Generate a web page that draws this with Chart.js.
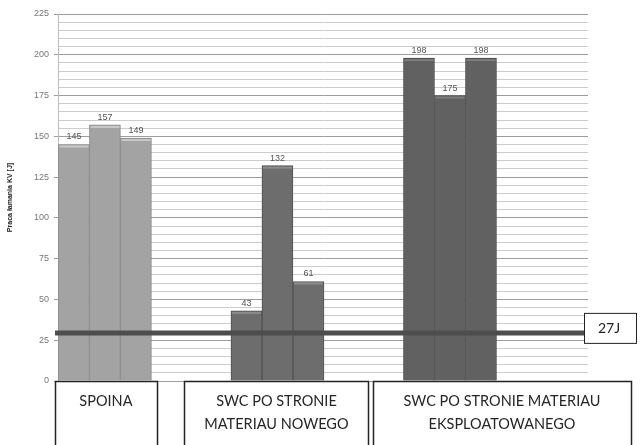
<!DOCTYPE html>
<html>

<head>
    <meta charset="utf-8">
    <title>Praca łamania KV</title>
    <style>
        body {
            margin: 0;
            background-color: white;
        }
    </style>
</head>

<body>
    <canvas id="kvChart" width="640" height="445"></canvas>

    <script src="https://cdn.jsdelivr.net/npm/chart.js"></script>
    <script>
        // Data
        const categories = ['SPOINA', ['SWC PO STRONIE', 'MATERIAU NOWEGO'], ['SWC PO STRONIE MATERIAU', 'EKSPLOATOWANEGO']];
        const sample1 = [145, 43, 198];
        const sample2 = [157, 132, 175];
        const sample3 = [149, 61, 198];
        const limitValue = 29.5;      // drawn position of the 27J line
        const limitLabel = '27J';
        const yTicks = [0, 25, 50, 75, 100, 125, 150, 175, 200, 225];

        // Styles per category group
        const fillColors = ['#a3a3a3', '#6d6d6d', '#616161'];
        const edgeColors = ['#888888', '#525252', '#484848'];
        const topColors = ['#c9c9c9', '#8c8c8c', '#7d7d7d'];

        // Label boxes under the groups: offset from group centre and width (px)
        const boxLayout = [{ dx: 1, w: 102 }, { dx: -1, w: 184 }, { dx: 52, w: 258 }];

        const toPoints = arr => arr.map((v, i) => ({ x: i, y: v }));

        const barDecor = {
            id: 'barDecor',
            afterDatasetsDraw(chart) {
                const ctx = chart.ctx;
                const area = chart.chartArea;
                const x = chart.scales.x;
                const y = chart.scales.y;

                // light strip on each bar top + value labels
                ctx.save();
                chart.data.datasets.forEach((ds, di) => {
                    const meta = chart.getDatasetMeta(di);
                    meta.data.forEach((bar, i) => {
                        const w = bar.width;
                        ctx.fillStyle = topColors[i];
                        ctx.fillRect(bar.x - w / 2 + 1, bar.y + 1, w - 2, 2);
                        ctx.fillStyle = '#555';
                        ctx.font = '9px "Liberation Sans", sans-serif';
                        ctx.textAlign = 'center';
                        ctx.textBaseline = 'bottom';
                        ctx.fillText(ds.data[i].y, bar.x, bar.y - 3);
                    });
                });

                // limit line with its box
                const ly = y.getPixelForValue(limitValue);
                ctx.strokeStyle = '#4d4d4d';
                ctx.lineWidth = 5;
                ctx.beginPath();
                ctx.moveTo(area.left - 3, ly);
                ctx.lineTo(area.right - 4, ly);
                ctx.stroke();

                ctx.fillStyle = 'white';
                ctx.strokeStyle = '#222';
                ctx.lineWidth = 1;
                ctx.fillRect(area.right - 4, ly - 20, 53, 31);
                ctx.strokeRect(area.right - 3.5, ly - 19.5, 52, 30);
                ctx.fillStyle = '#222';
                ctx.font = '14px Lato, sans-serif';
                ctx.textAlign = 'center';
                ctx.textBaseline = 'middle';
                ctx.fillText(limitLabel, area.right + 21, ly - 4);

                // category boxes
                const top = y.getPixelForValue(0);
                categories.forEach((cat, i) => {
                    const cx = x.getPixelForValue(i) + boxLayout[i].dx;
                    const w = boxLayout[i].w;
                    ctx.fillStyle = 'white';
                    ctx.fillRect(cx - w / 2, top, w, 80);
                    ctx.strokeStyle = '#222';
                    ctx.lineWidth = 1.5;
                    ctx.strokeRect(Math.round(cx - w / 2) + 0.5, top + 0.5, w, 80);
                    ctx.fillStyle = '#262626';
                    ctx.font = '14.5px Lato, sans-serif';
                    const lines = Array.isArray(cat) ? cat : [cat];
                    lines.forEach((line, li) => {
                        ctx.fillText(line, cx, top + 20 + li * 23);
                    });
                });
                ctx.restore();
            }
        };

        const ctx = document.getElementById('kvChart').getContext('2d');
        const kvChart = new Chart(ctx, {
            type: 'bar',
            data: {
                datasets: [
                    { label: 'Próbka 1', data: toPoints(sample1) },
                    { label: 'Próbka 2', data: toPoints(sample2) },
                    { label: 'Próbka 3', data: toPoints(sample3) }
                ].map(ds => Object.assign(ds, {
                    backgroundColor: fillColors,
                    borderColor: edgeColors,
                    borderWidth: 1,
                    barThickness: 31
                }))
            },
            options: {
                responsive: false,
                animation: false,
                layout: {
                    padding: { left: 0, top: 14, right: 52, bottom: 64 }
                },
                plugins: {
                    legend: { display: false },
                    tooltip: { enabled: false }
                },
                scales: {
                    x: {
                        type: 'linear',
                        display: false,
                        offset: false,
                        grid: { offset: false },
                        min: -0.272,
                        max: 2.80
                    },
                    y: {
                        min: 0,
                        max: 225,
                        afterFit(scale) {
                            scale.width = 58;
                        },
                        border: { color: '#bdbdbd' },
                        grid: {
                            color: c => (c.tick.value % 25 === 0) ? '#9d9d9d' : '#cccccc',
                            tickColor: c => (c.tick.value % 25 === 0) ? '#9d9d9d' : 'rgba(0,0,0,0)',
                            tickLength: 4
                        },
                        ticks: {
                            stepSize: 5,
                            autoSkip: false,
                            padding: 5,
                            color: '#777',
                            font: { size: 9, family: '"Liberation Sans", sans-serif' },
                            callback: v => yTicks.includes(v) ? v : ''
                        },
                        title: {
                            display: true,
                            text: 'Praca łamania KV [J]',
                            color: '#222',
                            padding: { top: 6, bottom: 0 },
                            font: { size: 7, weight: 'bold', family: '"Liberation Sans", sans-serif' }
                        }
                    }
                }
            },
            plugins: [barDecor]
        });
    </script>
</body>

</html>
